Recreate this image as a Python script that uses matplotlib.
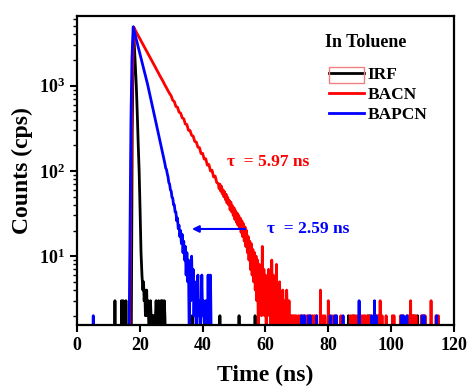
import numpy as np
import matplotlib
matplotlib.use('Agg')
import matplotlib.pyplot as plt
from matplotlib.patches import Rectangle

plt.rcParams['font.family'] = 'Liberation Serif'
plt.rcParams['font.weight'] = 'bold'
plt.rcParams['mathtext.fontset'] = 'custom'
plt.rcParams['mathtext.rm'] = 'Liberation Serif:bold'
plt.rcParams['mathtext.bf'] = 'Liberation Serif:bold'
plt.rcParams['mathtext.it'] = 'Liberation Serif:bold:italic'

# ---- data (time in ns, counts in cps) ----
# IRF
irf_t = [17.3, 17.6, 18.0, 18.3, 18.6, 18.9, 19.2, 19.5, 19.8, 20.1, 20.4, 20.7, 21.0]
irf_c = [1, 300, 4900, 2800, 1700, 1000, 480, 210, 100, 35, 11, 6, 4]
irf_noise = [5, 3, 4, 2, 3, 4, 2, 3, 2, 1, 2, 3, 2, 1, 2, 2, 1, 2, 1, 2, 3, 2, 1, 2, 3, 2, 2, 1,
             3, 2, 3, 2, 1, 3, 2, 1, 1]                      # from 21.2 ns, 0.2 ns bins
irf_spike_t = [12.1, 14.2, 14.7, 15.6, 36.7, 45.5, 51.6, 56.7, 62.0, 86.4, 88.0, 92.6, 93.2,
               106.6, 107.2, 108.4]
irf_spike_c = [3, 3, 3, 3, 2, 2, 2, 2, 2, 2, 2, 2, 2, 2, 2, 2]

# BACN
bacn_t = [16.8, 17.1, 17.5, 17.9, 18.2]
bacn_c = [1, 30, 700, 3000, 4800]
bacn_fast = [4530, 4190, 3870, 3580, 3310, 3060, 2830, 2620, 2420, 2240, 2070, 1910, 1770, 1640,
             1510, 1400, 1290, 1200, 1110, 1020, 946, 875, 809, 760, 675, 652, 570, 560, 490, 478,
             420, 410, 356, 350, 300, 298, 262, 256, 222, 218, 190, 188, 160, 161, 138, 139, 117,
             119, 100, 102, 85, 87, 73]                      # from 18.5 ns, 0.5 ns bins
bacn_tail = [71, 62, 70, 58, 66, 54, 60, 50, 57, 46, 53, 42, 49, 40, 45, 35, 43, 33, 39, 30, 37,
             27, 34, 25, 32, 23, 30, 21, 28, 19, 26, 17, 24, 15, 22, 13, 20, 11, 17, 9, 15, 7, 14,
             6, 12, 5, 11, 4, 10, 3, 9, 1, 8, 3, 6, 2, 13, 3, 7, 2, 6, 1, 5, 3, 7, 2, 5, 1, 9, 2,
             6, 1, 5, 2, 8, 1, 4, 2, 5, 1, 3, 1, 4, 2, 1, 3, 1, 4, 2, 1, 3, 1, 2, 1, 2, 2, 1, 2, 1,
             2, 1]                                           # from 45.0 ns, 0.25 ns bins
bacn_spike_t = [70.6, 71.2, 71.8, 72.6, 73.3, 74.4, 75.0, 75.6, 76.2, 77.5, 78.3, 78.9, 80.0,
                81.2, 82.4, 84.0, 87.0, 87.6, 88.3, 88.9, 89.6, 90.7, 91.3, 91.8, 92.6, 93.5,
                95.5, 96.0, 96.5, 97.1, 98.4, 100.4, 100.9, 103.0, 103.6, 105.2, 105.8, 106.2,
                106.8, 107.4, 107.9, 109.6, 110.2, 110.8, 112.7, 114.3, 115.0]
bacn_spike_c = [2, 2, 2, 2, 2, 2, 2, 2, 2, 4, 2, 2, 3, 2, 2, 2, 2, 2, 2, 2, 2, 2, 2, 2, 2, 2,
                2, 2, 3, 2, 2, 2, 2, 2, 2, 2, 2, 3, 2, 2, 2, 2, 2, 2, 3, 2, 2]

# BAPCN
bapcn_t = [16.6, 16.9, 17.2, 17.5, 17.9]
bapcn_c = [1, 20, 400, 2000, 4900]
bapcn_fast = [4000, 3370, 2850, 2400, 2030, 1710, 1450, 1220, 1035, 855, 705, 580, 477, 393, 324,
              266, 219, 180, 149]                            # from 18.5 ns, 0.5 ns bins
bapcn_tail = [122, 108, 104, 93, 85, 73, 70, 60, 58, 49, 48, 40, 40, 33, 33, 26, 28, 21, 23, 17,
              20, 14, 18, 11, 15, 9, 13, 6, 11, 5, 9, 1, 8, 3, 10, 4, 7, 2, 5, 3, 1, 4, 6, 2, 3,
              1, 2, 6, 2, 3, 2, 1, 3, 2, 1, 6, 1, 2, 6, 1]   # from 28.0 ns, 0.25 ns bins
bapcn_spike_t = [5.2, 71.5, 72.3, 73.7, 74.2, 76.3, 80.6, 82.0, 82.6, 84.7, 89.8, 93.8, 94.7,
                 95.2, 103.3, 103.9, 105.0, 109.9, 110.5, 114.5]
bapcn_spike_c = [2, 2, 2, 2, 2, 2, 2, 2, 2, 2, 3, 2, 3, 2, 2, 2, 2, 2, 2, 2]


def channels(start, step, counts):
    return list(start + step * np.arange(len(counts)))


def build(t, c, spike_t, spike_c, half=0.08):
    pts = list(zip(t, c))
    for st, sc in zip(spike_t, spike_c):
        pts += [(st - half, 1), (st, sc), (st + half, 1)]
    pts.sort()
    tt, cc = zip(*pts)
    return np.array(tt), np.array(cc)


irf_x, irf_y = build(irf_t + channels(21.2, 0.2, irf_noise), irf_c + irf_noise,
                     irf_spike_t, irf_spike_c)
bacn_x, bacn_y = build(bacn_t + channels(18.5, 0.5, bacn_fast) + channels(45.0, 0.25, bacn_tail),
                       bacn_c + bacn_fast + bacn_tail, bacn_spike_t, bacn_spike_c)
bapcn_x, bapcn_y = build(bapcn_t + channels(18.5, 0.5, bapcn_fast) + channels(28.0, 0.25, bapcn_tail),
                         bapcn_c + bapcn_fast + bapcn_tail, bapcn_spike_t, bapcn_spike_c)

fig = plt.figure(figsize=(4.69, 3.88), dpi=100)
ax = fig.add_axes([0.164, 0.162, 0.804, 0.797])

ax.plot(irf_x, irf_y, color='black', lw=2.0, label='IRF')
ax.plot(bacn_x, bacn_y, color='red', lw=2.0, label='BACN')
ax.plot(bapcn_x, bapcn_y, color='blue', lw=2.0, label='BAPCN')

ax.set_yscale('log')
ax.set_xlim(0, 120)
ax.set_ylim(1.55, 6600)
ax.set_xticks(range(0, 121, 20))
ax.set_yticks([10, 100, 1000])
ax.set_yticklabels([r'$10^{1}$', r'$10^{2}$', r'$10^{3}$'])
ax.tick_params(which='major', direction='out', length=5, width=1.5, labelsize=13)
ax.tick_params(which='minor', direction='out', length=3, width=1)
for s in ax.spines.values():
    s.set_linewidth(1.6)

ax.set_xlabel('Time (ns)', fontsize=17, fontweight='bold', labelpad=8)
ax.set_ylabel('Counts (cps)', fontsize=17, fontweight='bold', labelpad=4)

ax.text(0.658, 0.913, 'In Toluene', fontsize=13, va='center', transform=ax.transAxes)
ax.text(0.398, 0.527, 'τ  = 5.97 ns', fontsize=12.5, color='red', va='center', transform=ax.transAxes)
ax.text(0.504, 0.311, 'τ  = 2.59 ns', fontsize=12.5, color='blue', va='center', transform=ax.transAxes)
ax.annotate('', xy=(0.305, 0.311), xytext=(0.446, 0.311), xycoords='axes fraction',
            arrowprops=dict(arrowstyle='-|>', color='blue', lw=1.5, mutation_scale=10,
                            shrinkA=0, shrinkB=0))

leg = ax.legend(loc='upper left', bbox_to_anchor=(0.668, 0.834), frameon=False, fontsize=12.5,
                handlelength=2.0, handletextpad=0.25, labelspacing=0.2, borderpad=0,
                borderaxespad=0)

# pale red selection box around the IRF legend line
fig.canvas.draw()
hb = leg.legend_handles[0].get_window_extent()
tb = leg.get_texts()[0].get_window_extent()
inv = fig.transFigure.inverted()
(x0, y0), (x1, y1) = inv.transform([(hb.x0, tb.y0), (hb.x1, tb.y1)])
fig.add_artist(Rectangle((x0, y0), x1 - x0, y1 - y0, transform=fig.transFigure,
                         fill=False, ec='#f08080', lw=1))

fig.savefig('out.png', dpi=100)
